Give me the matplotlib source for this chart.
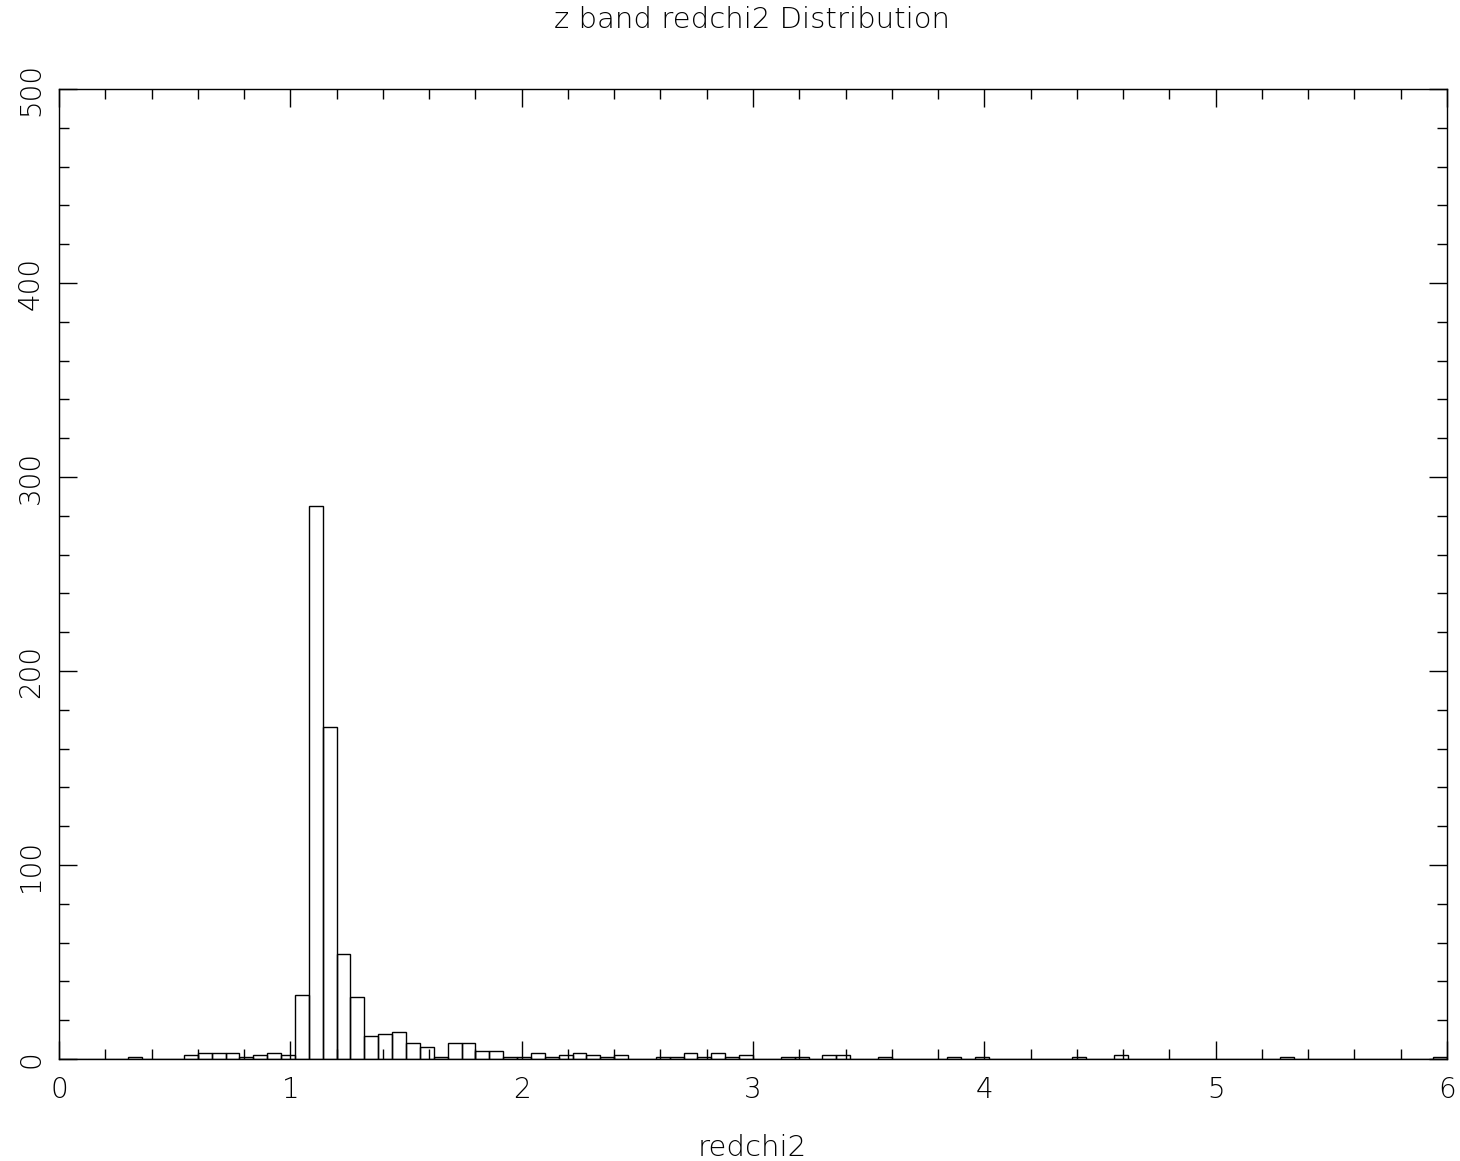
import numpy as np
import matplotlib
matplotlib.use("Agg")
import matplotlib.pyplot as plt
from matplotlib.ticker import MultipleLocator

# Histogram: 100 bins of width 0.06 from 0 to 6
bin_edges = np.linspace(0.0, 6.0, 101)
counts = np.zeros(100)
nonzero = {
    5: 1, 9: 2, 10: 3, 11: 3, 12: 3, 13: 1, 14: 2, 15: 3, 16: 2,
    17: 33, 18: 285, 19: 171, 20: 54, 21: 32, 22: 12, 23: 13, 24: 14,
    25: 8, 26: 6, 27: 1, 28: 8, 29: 8, 30: 4, 31: 4, 32: 1, 33: 1,
    34: 3, 35: 1, 36: 2, 37: 3, 38: 2, 39: 1, 40: 2,
    43: 1, 44: 1, 45: 3, 46: 1, 47: 3, 48: 1, 49: 2, 52: 1, 53: 1,
    55: 2, 56: 2, 59: 1, 64: 1, 66: 1, 73: 1, 76: 2, 88: 1, 99: 1,
}
for k, v in nonzero.items():
    counts[k] = v

title = "z band redchi2 Distribution"
xlabel = "redchi2"

plt.rcParams['font.family'] = ['DejaVu Sans']

fig = plt.figure(figsize=(14.6, 11.61), dpi=100)
ax = fig.add_axes([59/1460, 1 - 1059/1161, (1447-59)/1460, (1059-89)/1161])

centers = 0.5 * (bin_edges[:-1] + bin_edges[1:])
ax.hist(centers, bins=bin_edges, weights=counts, histtype='bar',
        fill=False, edgecolor='black', linewidth=1.0)

ax.set_xlim(0, 6)
ax.set_ylim(0, 500)
ax.xaxis.set_major_locator(MultipleLocator(1))
ax.xaxis.set_minor_locator(MultipleLocator(0.2))
ax.yaxis.set_major_locator(MultipleLocator(100))
ax.yaxis.set_minor_locator(MultipleLocator(20))
ax.tick_params(which='both', direction='in', top=True, right=True, width=1.0, color='black')
ax.tick_params(which='major', length=13, labelsize=20, pad=12)
ax.tick_params(which='minor', length=7)
for s in ax.spines.values():
    s.set_linewidth(1.0)
for lab in ax.get_yticklabels():
    lab.set_rotation(90)
    lab.set_va('center')
    lab.set_fontweight('light')
for lab in ax.get_xticklabels():
    lab.set_fontweight('light')
ax.tick_params(axis='y', pad=10)

fig.text(752/1460, 1 - 20/1161, title, ha='center', va='center', fontsize=21, fontweight='light')
fig.text(752/1460, 1 - 1148/1161, xlabel, ha='center', va='center', fontsize=21, fontweight='light')

fig.savefig("out.png", dpi=100, facecolor='white')
